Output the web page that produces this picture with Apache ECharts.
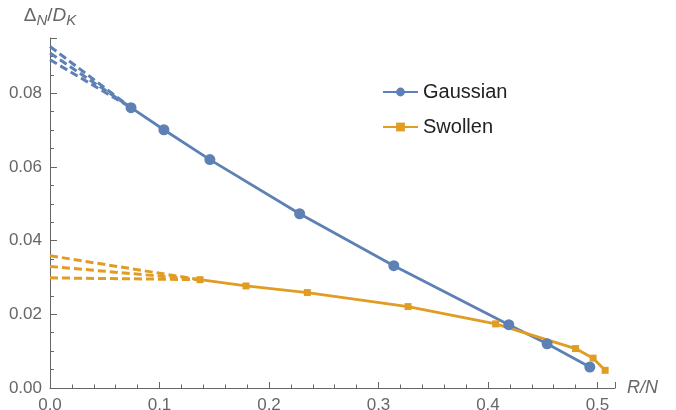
<!DOCTYPE html>
<html>
<head>
<meta charset="utf-8">
<script src="https://cdn.jsdelivr.net/npm/echarts@6/dist/echarts.min.js"></script>
<style>html,body{margin:0;padding:0;background:#fff}#c{width:676px;height:410px}</style>
</head>
<body>
<div id="c"></div>
<script>
const gaussX = [0.074, 0.104, 0.146, 0.228, 0.314, 0.419, 0.454, 0.493];
const gaussY = [0.0761, 0.0701, 0.0620, 0.0473, 0.0332, 0.0172, 0.0120, 0.0057];
const swolX = [0.137, 0.179, 0.235, 0.327, 0.407, 0.480, 0.496, 0.507];
const swolY = [0.0294, 0.0277, 0.0259, 0.0221, 0.0174, 0.0107, 0.0081, 0.0048];
const gaussIntercepts = [0.0927, 0.0909, 0.0891];
const swolIntercepts = [0.0359, 0.0330, 0.0299];
const seriesNames = ['Gaussian', 'Swollen'];

const BLUE = '#5E81B5', ORANGE = '#E19C24', AX = '#666666';
const FONT = 'Liberation Sans, Arial, sans-serif';
const pair = (xs, ys) => xs.map((x, i) => [x, ys[i]]);

const dashed = [];
gaussIntercepts.forEach(v => dashed.push({
  type: 'line', data: [[0, v], [gaussX[0], gaussY[0]]], symbol: 'none', silent: true, z: 1,
  lineStyle: { color: BLUE, width: 3, type: [8, 4] }
}));
swolIntercepts.forEach(v => dashed.push({
  type: 'line', data: [[0, v], [swolX[0], swolY[0]]], symbol: 'none', silent: true, z: 1,
  lineStyle: { color: ORANGE, width: 3, type: [8, 4] }
}));

const chart = echarts.init(document.getElementById('c'), null, { renderer: 'canvas' });
chart.setOption({
  animation: false,
  backgroundColor: '#fff',
  grid: { left: 50, right: 61, top: 38, bottom: 22, containLabel: false, outerBoundsMode: 'none' },
  legend: {
    orient: 'vertical', left: 377, top: 77, itemGap: 15, itemWidth: 35, itemHeight: 11,
    data: seriesNames,
    textStyle: { fontFamily: FONT, fontSize: 20, color: '#222' }
  },
  xAxis: {
    type: 'value', min: 0, max: 0.516, interval: 0.1,
    name: 'R/N', nameLocation: 'end', nameGap: 12,
    nameTextStyle: { fontFamily: FONT, fontSize: 18, fontStyle: 'italic', color: AX, verticalAlign: 'middle' },
    axisLine: { lineStyle: { color: AX, width: 1 } },
    axisTick: { inside: true, length: 6, lineStyle: { color: AX } },
    minorTick: { show: true, splitNumber: 5, length: 3.5, lineStyle: { color: AX } },
    splitLine: { show: false },
    axisLabel: { margin: 9, fontFamily: FONT, fontSize: 17, color: AX,
      formatter: v => v.toFixed(1), showMaxLabel: false }
  },
  yAxis: {
    type: 'value', min: 0, max: 0.095, interval: 0.02,
    name: '{n|Δ}{s|N}{n|/}{i|D}{s|K}', nameLocation: 'end', nameGap: 10,
    nameTextStyle: {
      align: 'center', color: AX, fontFamily: FONT,
      rich: {
        n: { fontSize: 19, color: AX, fontFamily: FONT },
        i: { fontSize: 19, color: AX, fontStyle: 'italic', fontFamily: FONT },
        s: { fontSize: 15, color: AX, fontStyle: 'italic', fontFamily: FONT, padding: [10, 0, 0, 0] }
      }
    },
    axisLine: { show: true, lineStyle: { color: AX, width: 1 } },
    axisTick: { show: true, inside: true, length: 7, lineStyle: { color: AX } },
    minorTick: { show: true, splitNumber: 4, length: 4, lineStyle: { color: AX } },
    splitLine: { show: false },
    axisLabel: { margin: 8, fontFamily: FONT, fontSize: 17, color: AX,
      formatter: v => v.toFixed(2), showMaxLabel: false }
  },
  series: [
    ...dashed,
    { name: seriesNames[0], type: 'line', data: pair(gaussX, gaussY), z: 3,
      symbol: 'circle', symbolSize: 11, itemStyle: { color: BLUE },
      lineStyle: { color: BLUE, width: 2.8 } },
    { name: seriesNames[1], type: 'line', data: pair(swolX, swolY), z: 3,
      symbol: 'rect', symbolSize: 7, itemStyle: { color: ORANGE },
      lineStyle: { color: ORANGE, width: 2.8 } }
  ]
});
</script>
</body>
</html>
